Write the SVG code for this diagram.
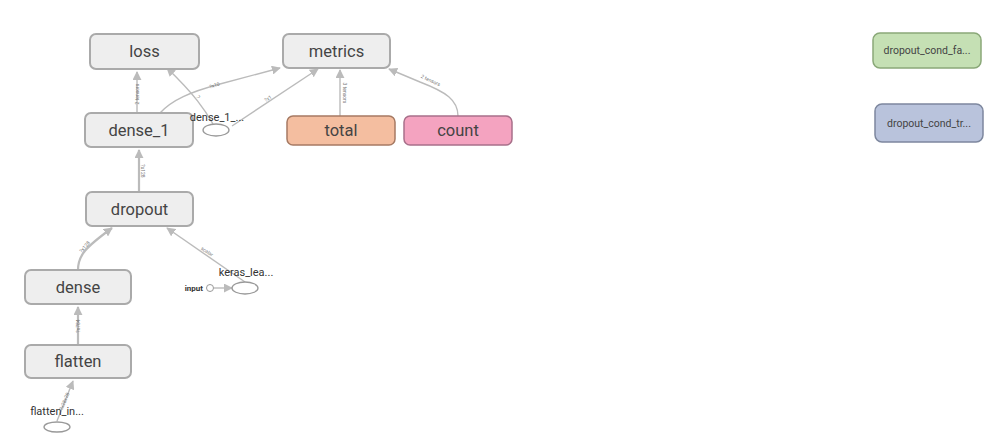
<svg xmlns="http://www.w3.org/2000/svg" width="999" height="445" viewBox="0 0 999 445">
<defs>
<marker id="arr" viewBox="0 0 10 10" refX="9" refY="5" markerWidth="9" markerHeight="9" markerUnits="userSpaceOnUse" orient="auto">
<path d="M0,0 L10,5 L0,10 z" fill="#bbbbbb"/>
</marker>
<style>
.n{fill:#eeeeee;stroke:#aaaaaa;stroke-width:2}
.t{font-family:Roboto,"Liberation Sans",sans-serif;font-size:16.5px;fill:#444444;text-anchor:middle;dominant-baseline:central}
.s{font-family:Roboto,"Liberation Sans",sans-serif;font-size:11px;fill:#333333;text-anchor:middle}
.e{fill:none;stroke:#bbbbbb;stroke-width:1.4;marker-end:url(#arr)}
.w{stroke-width:2.2}
.l{font-family:Roboto,"Liberation Sans",sans-serif;font-size:5px;fill:#777777;text-anchor:middle}
.o{fill:#ffffff;stroke:#999999;stroke-width:1.3}
.c{font-family:Roboto,"Liberation Sans",sans-serif;font-size:10.5px;fill:#444444;text-anchor:middle;dominant-baseline:central}
</style>
</defs>
<rect width="999" height="445" fill="#ffffff"/>
<g id="edges">
<path class="e" d="M137,113 L137,72"/>
<path class="e" d="M160,113 C172,100 190,92 220,84 L280,68"/>
<path class="e" d="M213,124 C205,110 195,95 167,68"/>
<path class="e" d="M232,126 L318,69"/>
<path class="e" d="M340,116 L340,70"/>
<path class="e" d="M458,116 C458,100 446,92 420,82 L389,69"/>
<path class="e w" d="M139,192 L139,150"/>
<path class="e w" d="M78,270 C78,255 86,247 112,228"/>
<path class="e" d="M245,282 L167,228"/>
<path class="e w" d="M78,345 L78,307"/>
<path class="e" d="M57,421 L73,381"/>
<path class="e" d="M214,288 L232,288"/>
<text class="l" transform="translate(139,94) rotate(-90)">2 tensors</text>
<text class="l" transform="translate(215,87) rotate(-16)">?x10</text>
<text class="l" transform="translate(197,98) rotate(55)">?</text>
<text class="l" transform="translate(269,100) rotate(-33)">?x1</text>
<text class="l" transform="translate(343,93) rotate(90)">3 tensors</text>
<text class="l" transform="translate(430,82) rotate(25)">2 tensors</text>
<text class="l" transform="translate(141,171) rotate(90)">?x128</text>
<text class="l" transform="translate(86,248) rotate(-50)">?x128</text>
<text class="l" transform="translate(206,253) rotate(34)">scalar</text>
<text class="l" transform="translate(80,326) rotate(-90)">?x784</text>
<text class="l" transform="translate(66,402) rotate(-68)">?x28x28</text>
</g>
<g id="loss"><rect class="n" x="90" y="34" width="109" height="35" rx="6"/><text class="t" x="144.5" y="51">loss</text></g>
<g id="metrics"><rect class="n" x="283" y="34" width="107" height="34" rx="6"/><text class="t" x="336.5" y="51">metrics</text></g>
<g id="dense_1"><rect class="n" x="85" y="113" width="108" height="34" rx="6"/><text class="t" x="139" y="130">dense_1</text></g>
<g id="dense_1_input"><ellipse class="o" cx="216" cy="130" rx="13" ry="6"/><text class="s" x="217" y="121">dense_1_...</text></g>
<g id="total"><rect x="287" y="116" width="108" height="29" rx="6" fill="#f4bea0" stroke="#a67a63" stroke-width="1.5"/><text class="t" x="341" y="130.5">total</text></g>
<g id="count"><rect x="404" y="116" width="108" height="29" rx="6" fill="#f4a3c0" stroke="#a8708a" stroke-width="1.5"/><text class="t" x="458" y="130.5">count</text></g>
<g id="dropout"><rect class="n" x="86" y="192" width="107" height="34" rx="6"/><text class="t" x="139.5" y="209">dropout</text></g>
<g id="keras_learning_phase"><ellipse class="o" cx="245" cy="288" rx="13" ry="6"/><text class="s" x="246" y="276">keras_lea...</text>
<circle cx="210" cy="288" r="3.5" fill="#ffffff" stroke="#999999" stroke-width="1"/><text x="203" y="291" font-family="Roboto,'Liberation Sans',sans-serif" font-size="8" font-weight="bold" fill="#333333" text-anchor="end">input</text></g>
<g id="dense"><rect class="n" x="25" y="270" width="106" height="34" rx="6"/><text class="t" x="78" y="287">dense</text></g>
<g id="flatten"><rect class="n" x="25" y="345" width="106" height="33" rx="6"/><text class="t" x="78" y="361.5">flatten</text></g>
<g id="flatten_input"><ellipse class="o" cx="57" cy="427" rx="13" ry="5"/><text class="s" x="57" y="415">flatten_in...</text></g>
<g id="dropout_cond_false"><rect x="873" y="33" width="108" height="35" rx="7" fill="#c5e0b4" stroke="#8aa878" stroke-width="1.5"/><text class="c" x="927" y="50.5">dropout_cond_fa...</text></g>
<g id="dropout_cond_true"><rect x="875" y="104" width="108" height="38" rx="7" fill="#b9c3dc" stroke="#7d879e" stroke-width="1.5"/><text class="c" x="929" y="123">dropout_cond_tr...</text></g>
</svg>
